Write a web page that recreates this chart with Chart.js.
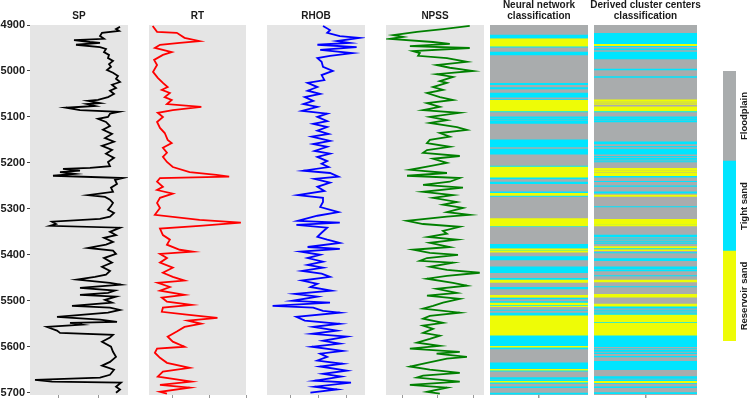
<!DOCTYPE html>
<html>
<head>
<meta charset="utf-8">
<title>Well logs and facies classification</title>
<script src="https://cdn.jsdelivr.net/npm/chart.js@4.4.1/dist/chart.umd.min.js"></script>
<style>
  html, body { margin: 0; padding: 0; background: #fff; }
  #page { position: relative; width: 750px; height: 399px; overflow: hidden;
          font-family: "Liberation Sans", Arial, sans-serif; color: #1a1a1a; }
  #page canvas { position: absolute; left: 0; top: 0; }
  .title { position: absolute; width: 160px; text-align: center; font-weight: bold;
           font-size: 10px; line-height: 11px; white-space: pre; }
  .key { position: absolute; width: 120px; height: 14px; line-height: 14px; text-align: center;
         font-size: 9.5px; font-weight: bold; white-space: nowrap; transform: rotate(-90deg); }
</style>
</head>
<body>
<div id="page"></div>
<script>
const DEPTH_TICKS = [4900, 5000, 5100, 5200, 5300, 5400, 5500, 5600, 5700];
const DEPTH_MIN = 4900;
const DEPTH_MAX = 5705;

// [depth ft, SP mV]
const SP = [
  [4904,-38],[4909,-42],[4913,-39],[4917,-56],[4924,-58],[4930,-54],[4933,-84],[4937,-68],[4939,-58],
  [4943,-82],[4948,-58],[4952,-52],[4959,-54],[4965,-49],[4972,-50],[4978,-45],[4985,-49],[4991,-47],
  [4998,-51],[5004,-45],[5011,-40],[5017,-42],[5024,-38],[5030,-46],[5037,-42],[5043,-48],[5050,-44],
  [5057,-50],[5063,-60],[5065,-70],[5070,-58],[5072,-71],[5076,-63],[5080,-92],[5085,-78],[5089,-39],
  [5093,-48],[5100,-50],[5104,-60],[5111,-52],[5120,-48],[5128,-55],[5137,-46],[5146,-53],[5154,-44],
  [5163,-56],[5172,-46],[5180,-52],[5189,-44],[5198,-50],[5207,-48],[5211,-68],[5213,-95],[5217,-78],
  [5220,-98],[5224,-83],[5228,-105],[5233,-35],[5237,-43],[5246,-41],[5254,-47],[5263,-45],[5270,-70],
  [5274,-53],[5280,-48],[5287,-45],[5294,-47],[5302,-50],[5309,-44],[5317,-48],[5322,-58],[5328,-106],
  [5333,-102],[5337,-108],[5341,-38],[5350,-48],[5357,-42],[5363,-54],[5372,-45],[5378,-52],[5385,-70],
  [5391,-45],[5398,-42],[5407,-54],[5417,-46],[5426,-56],[5435,-48],[5443,-52],[5448,-63],[5454,-81],
  [5461,-48],[5465,-37],[5472,-78],[5478,-43],[5483,-50],[5487,-78],[5491,-42],[5498,-53],[5504,-46],
  [5511,-86],[5515,-48],[5520,-38],[5526,-50],[5535,-101],[5541,-58],[5546,-41],[5548,-88],[5552,-76],
  [5557,-111],[5565,-101],[5570,-98],[5574,-45],[5580,-48],[5589,-56],[5600,-47],[5611,-45],[5622,-42],
  [5633,-48],[5641,-56],[5650,-44],[5661,-48],[5667,-58],[5672,-123],[5676,-106],[5678,-37],[5687,-42],
  [5693,-38],[5700,-42],
];

// [depth ft, RT ohm.m]
const RT = [
  [4902,4.5],[4915,5.7],[4917,11.1],[4928,13.2],[4935,17.3],[4939,11.9],[4943,6.5],[4950,5.1],[4959,9.7],
  [4965,7.3],[4976,4.9],[4987,5.7],[5002,4.6],[5015,5.9],[5026,7.3],[5035,8.6],[5041,7.0],[5048,9.2],
  [5057,7.8],[5063,9.7],[5072,8.4],[5078,17.8],[5085,10.0],[5091,5.9],[5100,7.3],[5111,5.7],[5124,6.5],
  [5135,7.8],[5150,8.6],[5157,9.7],[5167,7.3],[5178,8.4],[5187,7.3],[5198,8.4],[5209,10.0],[5220,14.6],
  [5226,21.9],[5230,25.4],[5233,6.5],[5241,5.7],[5252,7.3],[5259,5.7],[5267,10.0],[5276,6.5],[5287,5.7],
  [5298,6.5],[5313,5.1],[5324,17.3],[5330,28.6],[5337,17.3],[5343,6.5],[5357,7.3],[5367,9.2],[5378,8.4],
  [5389,11.9],[5393,15.4],[5398,6.5],[5407,8.4],[5417,6.5],[5428,10.0],[5439,7.3],[5448,10.0],[5456,13.2],
  [5461,5.9],[5470,9.2],[5478,6.5],[5487,13.2],[5493,7.0],[5502,8.4],[5509,15.1],[5515,7.3],[5524,7.0],
  [5530,13.8],[5537,22.2],[5543,14.1],[5550,17.8],[5557,13.2],[5567,11.1],[5578,8.6],[5589,10.0],
  [5600,13.2],[5604,5.7],[5613,5.1],[5624,6.5],[5635,8.4],[5646,14.6],[5654,7.3],[5665,5.9],[5676,15.1],
  [5683,6.5],[5689,14.6],[5698,6.5],[5702,8.4],
];

// [depth ft, RHOB g/cc]
const RHOB = [
  [4902,2.43],[4911,2.48],[4917,2.46],[4924,2.55],[4928,2.69],[4935,2.53],[4939,2.62],[4943,2.39],
  [4948,2.67],[4954,2.41],[4961,2.64],[4967,2.48],[4972,2.39],[4980,2.42],[4991,2.43],[5000,2.50],
  [5009,2.42],[5020,2.44],[5026,2.32],[5035,2.39],[5043,2.32],[5050,2.41],[5057,2.30],[5065,2.36],
  [5072,2.29],[5078,2.39],[5087,2.28],[5093,2.46],[5100,2.39],[5109,2.46],[5115,2.36],[5122,2.46],
  [5130,2.39],[5137,2.47],[5143,2.35],[5152,2.48],[5159,2.36],[5165,2.46],[5174,2.37],[5180,2.48],
  [5187,2.39],[5196,2.46],[5202,2.42],[5209,2.47],[5217,2.29],[5222,2.48],[5230,2.54],[5235,2.37],
  [5243,2.48],[5252,2.39],[5261,2.44],[5270,2.25],[5276,2.43],[5285,2.43],[5296,2.41],[5307,2.54],
  [5315,2.39],[5326,2.25],[5330,2.55],[5335,2.24],[5341,2.46],[5352,2.42],[5361,2.39],[5367,2.46],
  [5374,2.55],[5383,2.32],[5387,2.55],[5393,2.27],[5400,2.41],[5407,2.32],[5415,2.43],[5422,2.32],
  [5428,2.43],[5435,2.28],[5441,2.42],[5448,2.48],[5456,2.28],[5463,2.39],[5470,2.34],[5478,2.49],
  [5485,2.23],[5491,2.39],[5500,2.21],[5504,2.48],[5511,2.07],[5515,2.36],[5522,2.43],[5526,2.55],
  [5535,2.24],[5543,2.30],[5550,2.55],[5557,2.36],[5565,2.53],[5572,2.35],[5578,2.60],[5587,2.43],
  [5593,2.55],[5600,2.35],[5609,2.57],[5615,2.41],[5622,2.46],[5630,2.39],[5637,2.57],[5643,2.41],
  [5652,2.60],[5659,2.43],[5665,2.56],[5674,2.37],[5678,2.63],[5687,2.37],[5693,2.53],[5700,2.34],
];

// [depth ft, NPSS %]
const NPSS = [
  [4902,29.0],[4909,21.5],[4915,14.2],[4922,7.5],[4926,10.3],[4930,6.6],[4937,18.7],[4941,23.4],
  [4946,12.2],[4950,29.0],[4957,13.1],[4961,15.0],[4967,14.5],[4972,22.6],[4980,28.2],[4987,19.7],
  [4993,23.4],[5000,29.9],[5007,19.7],[5013,24.3],[5022,20.6],[5026,22.6],[5035,18.7],[5041,21.5],
  [5048,17.0],[5057,20.6],[5063,24.3],[5070,17.0],[5078,20.6],[5085,15.9],[5091,26.2],[5100,17.8],
  [5107,22.6],[5113,17.8],[5122,25.4],[5128,28.2],[5135,20.6],[5143,23.4],[5150,17.8],[5157,17.0],
  [5165,23.4],[5172,17.0],[5178,15.9],[5185,26.2],[5191,18.7],[5200,22.6],[5207,17.8],[5215,12.2],
  [5222,22.6],[5228,11.4],[5233,26.2],[5241,23.4],[5248,15.9],[5254,27.1],[5263,15.9],[5270,24.3],
  [5276,18.7],[5285,25.4],[5291,21.5],[5298,27.1],[5307,22.6],[5313,29.0],[5317,22.6],[5326,11.4],
  [5333,15.9],[5339,26.2],[5348,21.5],[5354,22.6],[5361,17.3],[5367,25.4],[5374,17.8],[5383,23.4],
  [5389,13.1],[5396,17.8],[5400,25.7],[5407,17.0],[5413,15.0],[5417,24.3],[5426,17.8],[5433,22.6],
  [5439,31.8],[5446,22.6],[5452,17.0],[5461,24.3],[5467,28.2],[5474,19.7],[5483,25.4],[5489,17.0],
  [5496,26.2],[5504,21.5],[5511,18.7],[5517,15.9],[5526,26.2],[5533,17.8],[5539,15.9],[5548,21.5],
  [5554,15.9],[5561,18.7],[5570,15.9],[5576,20.6],[5583,17.8],[5591,14.2],[5598,20.6],[5604,12.2],
  [5611,26.2],[5615,19.7],[5622,28.2],[5626,22.6],[5635,17.0],[5643,12.2],[5650,17.8],[5657,26.2],
  [5663,15.9],[5667,14.2],[5676,26.2],[5683,12.2],[5689,22.6],[5698,17.0],[5702,20.6],
];

const CLASSES = ['Floodplain', 'Tight sand', 'Reservoir sand'];

// [top, base] depth intervals; anything not listed is floodplain
const NN_TIGHT = [
  [4922,4929],[4946,4948],[4959,4965],[5027,5030],[5036,5039],[5048,5057],[5062,5064],[5087,5089],
  [5100,5102],[5104,5107],[5109,5114],[5150,5165],[5170,5181],[5207,5209],[5231,5235],[5242,5245],
  [5263,5266],[5271,5273],[5337,5338],[5377,5386],[5390,5392],[5404,5411],[5426,5439],[5451,5455],
  [5471,5474],[5494,5496],[5502,5505],[5509,5511],[5520,5521],[5527,5533],[5575,5599],[5601,5605],
  [5635,5649],[5651,5653],[5667,5670],[5672,5675],[5677,5680],[5687,5689],[5701,5703],
];
const NN_RESERVOIR = [
  [4930,4946],[5064,5087],[5209,5231],[5266,5271],[5321,5337],[5387,5390],[5392,5394],[5455,5460],
  [5488,5492],[5505,5509],[5512,5513],[5533,5575],[5599,5601],[5649,5651],[5675,5677],
];
const CC_TIGHT = [
  [4918,4942],[4945,4947],[4952,4954],[4959,4974],[4996,4998],[5012,5014],[5087,5089],[5100,5103],
  [5105,5107],[5109,5111],[5154,5159],[5164,5165],[5170,5181],[5186,5187],[5190,5191],[5193,5194],
  [5197,5198],[5228,5231],[5240,5241],[5250,5251],[5263,5266],[5295,5296],[5334,5335],[5357,5361],
  [5365,5366],[5370,5371],[5374,5375],[5385,5387],[5395,5396],[5408,5413],[5426,5431],[5434,5435],
  [5445,5446],[5469,5470],[5512,5516],[5520,5521],[5524,5525],[5528,5530],[5546,5549],[5553,5554],
  [5575,5600],[5604,5605],[5608,5610],[5614,5615],[5621,5622],[5632,5650],[5665,5669],[5672,5675],
  [5678,5680],[5687,5689],[5700,5702],
];
const CC_RESERVOIR = [
  [4942,4945],[5063,5066],[5069,5070],[5072,5073],[5078,5087],[5212,5215],[5217,5220],[5222,5228],
  [5270,5273],[5323,5334],[5335,5337],[5382,5385],[5389,5391],[5455,5459],[5486,5492],[5507,5512],
  [5531,5546],[5549,5575],[5675,5678],
];

const COLORS = {
  floodplain: '#A9ACAD',
  tight: '#00E5FF',
  reservoir: '#EEFC06',
  panel: '#E5E5E5',
};
const FONT = '"Liberation Sans", Arial, sans-serif';
const W = 750, H = 399;
const PANEL_TOP = 25, PANEL_BOTTOM = 395, TICK_LEN = 3, DEPTH_AXIS_W = 30;
const KEY = { left: 723, right: 736, top: 71, bottom: 341, textX: 744 };

const page = document.getElementById('page');

Chart.register({
  id: 'panelBackground',
  beforeDraw(chart, args, opts) {
    if (!opts.color) return;
    const { ctx, chartArea: a } = chart;
    ctx.save();
    ctx.fillStyle = opts.color;
    ctx.fillRect(a.left, a.top, a.right - a.left, a.bottom - a.top);
    ctx.restore();
  },
});

function addCanvas() {
  const c = document.createElement('canvas');
  c.width = W;
  c.height = H;
  page.appendChild(c);
  return c.getContext('2d');
}

function addText(cls, text, left, top) {
  const d = document.createElement('div');
  d.className = cls;
  d.textContent = text;
  d.style.left = left + 'px';
  d.style.top = top + 'px';
  page.appendChild(d);
}

const baseOptions = (left, right, panelColor) => ({
  responsive: false,
  animation: false,
  events: [],
  layout: { padding: { left, right: W - right, top: PANEL_TOP, bottom: H - PANEL_BOTTOM - TICK_LEN } },
  plugins: {
    legend: { display: false },
    tooltip: { enabled: false },
    panelBackground: { color: panelColor },
  },
});

const depthAxis = showLabels => ({
  type: 'linear',
  reverse: true,
  min: DEPTH_MIN,
  max: DEPTH_MAX,
  display: showLabels,
  afterBuildTicks: s => { s.ticks = DEPTH_TICKS.map(value => ({ value })); },
  afterFit: s => {
    if (!showLabels) return;
    s.width = DEPTH_AXIS_W;
    s.paddingTop = 0;
    s.paddingBottom = 0;
  },
  ticks: {
    font: { family: FONT, size: 11, weight: 'bold' },
    color: '#1a1a1a',
    padding: 2,
    callback: v => String(v),
  },
  grid: { drawOnChartArea: false, tickLength: TICK_LEN, color: '#444' },
  border: { display: false },
});

function curveChart(p) {
  const showDepth = Boolean(p.depthLabels);
  new Chart(addCanvas(), {
    type: 'scatter',
    data: {
      datasets: [{
        label: p.name,
        data: p.data.map(([depth, v]) => ({ x: v, y: depth })),
        showLine: true,
        borderColor: p.color,
        borderWidth: 1.8,
        pointRadius: 0,
        tension: 0,
      }],
    },
    options: {
      ...baseOptions(p.left - (showDepth ? DEPTH_AXIS_W : 0), p.right, COLORS.panel),
      scales: {
        x: {
          type: 'linear',
          min: p.min,
          max: p.max,
          afterBuildTicks: s => { s.ticks = p.ticks.map(value => ({ value })); },
          ticks: { display: false },
          grid: { drawOnChartArea: false, tickLength: TICK_LEN, color: '#999' },
          border: { display: false },
        },
        y: depthAxis(showDepth),
      },
    },
  });
  addText('title', p.name, (p.left + p.right) / 2 - 80, 10);
}

function classChart(p) {
  const bars = intervals => intervals.map(([top, base]) => ({ x: 'log', y: [top, base] }));
  new Chart(addCanvas(), {
    type: 'bar',
    data: {
      labels: ['log'],
      datasets: [
        { label: CLASSES[2], data: bars(p.reservoir), backgroundColor: COLORS.reservoir },
        { label: CLASSES[1], data: bars(p.tight), backgroundColor: COLORS.tight },
        { label: CLASSES[0], data: bars([[DEPTH_MIN, DEPTH_MAX]]), backgroundColor: COLORS.floodplain },
      ],
    },
    options: {
      ...baseOptions(p.left, p.right),
      datasets: { bar: { grouped: false, categoryPercentage: 1, barPercentage: 1, borderWidth: 0 } },
      scales: {
        x: {
          type: 'category',
          offset: true,
          z: 1,
          ticks: { display: false },
          grid: { offset: false, color: 'rgba(255,255,255,0.9)', lineWidth: 1.5, tickColor: '#999', tickLength: TICK_LEN },
          border: { display: false },
        },
        y: depthAxis(false),
      },
    },
  });
  addText('title', p.name, (p.left + p.right) / 2 - 80, -1);
}

function classKey() {
  const colors = [COLORS.floodplain, COLORS.tight, COLORS.reservoir];
  new Chart(addCanvas(), {
    type: 'bar',
    data: {
      labels: ['key'],
      datasets: [{
        data: CLASSES.map((c, i) => ({ x: 'key', y: [i, i + 1] })),
        backgroundColor: colors,
      }],
    },
    options: {
      responsive: false,
      animation: false,
      events: [],
      layout: { padding: { left: KEY.left, right: W - KEY.right, top: KEY.top, bottom: H - KEY.bottom } },
      plugins: { legend: { display: false }, tooltip: { enabled: false } },
      datasets: { bar: { categoryPercentage: 1, barPercentage: 1, borderWidth: 0 } },
      scales: {
        x: { display: false },
        y: { display: false, reverse: true, min: 0, max: CLASSES.length },
      },
    },
  });
  const step = (KEY.bottom - KEY.top) / CLASSES.length;
  CLASSES.forEach((c, i) => addText('key', c, KEY.textX - 60, KEY.top + (i + 0.5) * step - 7));
}

curveChart({ name: 'SP', data: SP, color: '#000000', min: -128, max: -30, ticks: [-100, -60], left: 30, right: 128, depthLabels: true });
curveChart({ name: 'RT', data: RT, color: '#FF0000', min: 3.5, max: 30, ticks: [10, 20, 30], left: 149, right: 246 });
curveChart({ name: 'RHOB', data: RHOB, color: '#0000FF', min: 2.03, max: 2.73, ticks: [2.2, 2.4, 2.6], left: 267, right: 365 });
curveChart({ name: 'NPSS', data: NPSS, color: '#008000', min: 5.5, max: 33, ticks: [10, 20, 30], left: 386, right: 484 });
classChart({ name: 'Neural network\nclassification', tight: NN_TIGHT, reservoir: NN_RESERVOIR, left: 490, right: 588 });
classChart({ name: 'Derived cluster centers\nclassification', tight: CC_TIGHT, reservoir: CC_RESERVOIR, left: 594, right: 697 });
classKey();
</script>
</body>
</html>
